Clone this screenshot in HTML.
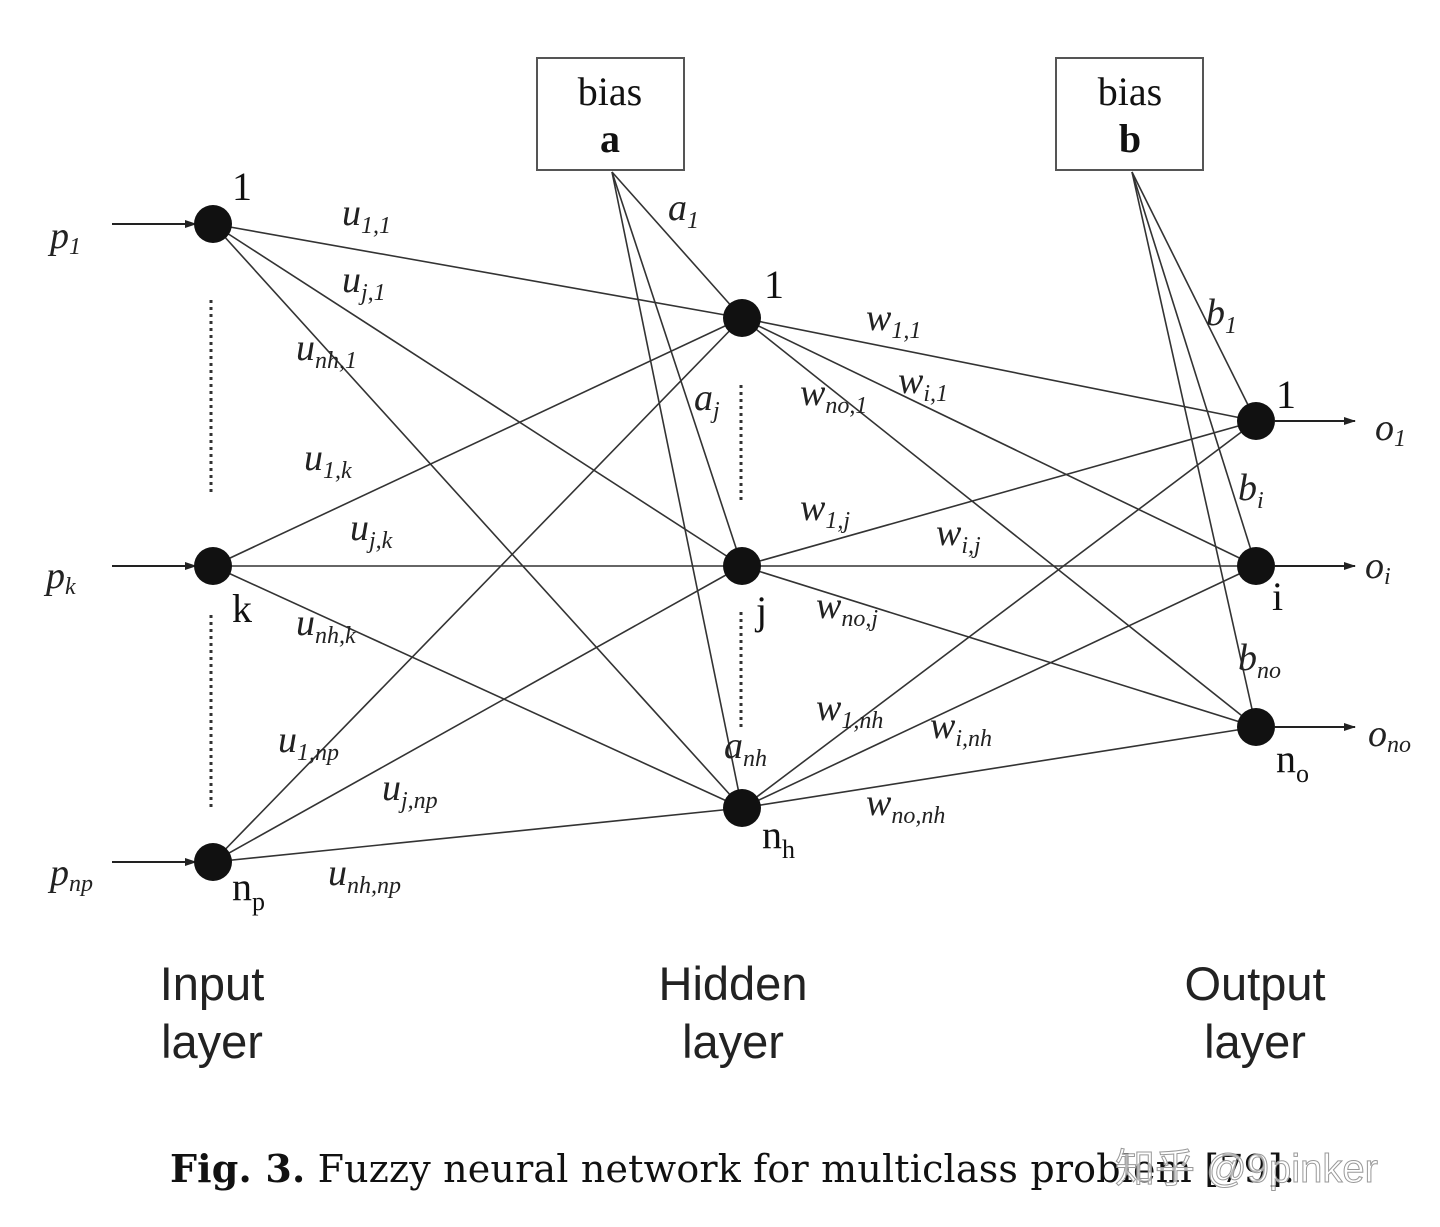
<!DOCTYPE html>
<html><head><meta charset="utf-8"><style>
html,body{margin:0;padding:0;background:#fff;}
svg{display:block}
.l{font-family:"Liberation Serif",serif;font-style:italic;font-size:38px;fill:#222}
.s{font-family:"Liberation Serif",serif;font-style:italic;font-size:24px;fill:#222}
.n{font-family:"Liberation Serif",serif;font-size:40px;fill:#111}
.g{font-family:"Liberation Sans",sans-serif;font-size:47px;fill:#222}
</style></head><body>
<svg width="1440" height="1227" viewBox="0 0 1440 1227" xmlns="http://www.w3.org/2000/svg">
<defs><marker id="ar" markerWidth="12" markerHeight="8" refX="11" refY="4" orient="auto" markerUnits="userSpaceOnUse"><path d="M0,0 L12,4 L0,8 z" fill="#222"/></marker></defs>
<g stroke="#333" stroke-width="1.6" fill="none">
<line x1="213" y1="224" x2="742" y2="318"/><line x1="213" y1="224" x2="742" y2="566"/><line x1="213" y1="224" x2="742" y2="808"/>
<line x1="213" y1="566" x2="742" y2="318"/><line x1="213" y1="566" x2="742" y2="566"/><line x1="213" y1="566" x2="742" y2="808"/>
<line x1="213" y1="862" x2="742" y2="318"/><line x1="213" y1="862" x2="742" y2="566"/><line x1="213" y1="862" x2="742" y2="808"/>
<line x1="742" y1="318" x2="1256" y2="421"/><line x1="742" y1="318" x2="1256" y2="566"/><line x1="742" y1="318" x2="1256" y2="727"/>
<line x1="742" y1="566" x2="1256" y2="421"/><line x1="742" y1="566" x2="1256" y2="566"/><line x1="742" y1="566" x2="1256" y2="727"/>
<line x1="742" y1="808" x2="1256" y2="421"/><line x1="742" y1="808" x2="1256" y2="566"/><line x1="742" y1="808" x2="1256" y2="727"/>
<line x1="612" y1="172" x2="742" y2="318"/><line x1="612" y1="172" x2="742" y2="566"/><line x1="612" y1="172" x2="742" y2="808"/>
<line x1="1132" y1="172" x2="1256" y2="421"/><line x1="1132" y1="172" x2="1256" y2="566"/><line x1="1132" y1="172" x2="1256" y2="727"/>
</g>
<g stroke="#222" stroke-width="2">
<line x1="112" y1="224" x2="196" y2="224" marker-end="url(#ar)"/>
<line x1="112" y1="566" x2="196" y2="566" marker-end="url(#ar)"/>
<line x1="112" y1="862" x2="196" y2="862" marker-end="url(#ar)"/>
<line x1="1275" y1="421" x2="1355" y2="421" marker-end="url(#ar)"/>
<line x1="1275" y1="566" x2="1355" y2="566" marker-end="url(#ar)"/>
<line x1="1275" y1="727" x2="1355" y2="727" marker-end="url(#ar)"/>
</g>
<g stroke="#333" stroke-width="3" stroke-dasharray="3,4">
<line x1="211" y1="300" x2="211" y2="495"/><line x1="211" y1="615" x2="211" y2="810"/>
<line x1="741" y1="385" x2="741" y2="500"/><line x1="741" y1="612" x2="741" y2="728"/>
</g>
<g fill="#111">
<circle cx="213" cy="224" r="19"/><circle cx="213" cy="566" r="19"/><circle cx="213" cy="862" r="19"/>
<circle cx="742" cy="318" r="19"/><circle cx="742" cy="566" r="19"/><circle cx="742" cy="808" r="19"/>
<circle cx="1256" cy="421" r="19"/><circle cx="1256" cy="566" r="19"/><circle cx="1256" cy="727" r="19"/>
</g>
<rect x="537" y="58" width="147" height="112" fill="#fff" stroke="#555" stroke-width="2"/>
<rect x="1056" y="58" width="147" height="112" fill="#fff" stroke="#555" stroke-width="2"/>
<text class="n" x="610" y="105" text-anchor="middle">bias</text>
<text class="n" x="610" y="152" text-anchor="middle" font-weight="bold">a</text>
<text class="n" x="1130" y="105" text-anchor="middle">bias</text>
<text class="n" x="1130" y="152" text-anchor="middle" font-weight="bold">b</text>
<text class="n" x="232" y="200">1</text><text class="n" x="232" y="622">k</text>
<text class="n" x="232" y="900">n<tspan font-size="26" dy="10">p</tspan></text>
<text class="n" x="764" y="298">1</text><text class="n" x="756" y="624">j</text>
<text class="n" x="762" y="848">n<tspan font-size="26" dy="10">h</tspan></text>
<text class="n" x="1276" y="408">1</text><text class="n" x="1272" y="610">i</text>
<text class="n" x="1276" y="772">n<tspan font-size="26" dy="10">o</tspan></text>
<text class="l" x="50" y="248" font-size="44">p<tspan class="s" dy="6">1</tspan></text>
<text class="l" x="46" y="588" font-size="44">p<tspan class="s" dy="6">k</tspan></text>
<text class="l" x="50" y="885" font-size="44">p<tspan class="s" dy="6">np</tspan></text>
<text class="l" x="1375" y="440">o<tspan class="s" dy="6">1</tspan></text>
<text class="l" x="1365" y="578">o<tspan class="s" dy="6">i</tspan></text>
<text class="l" x="1368" y="746">o<tspan class="s" dy="6">no</tspan></text>
<text class="l" x="342" y="225">u<tspan class="s" dy="8">1,1</tspan></text>
<text class="l" x="342" y="292">u<tspan class="s" dy="8">j,1</tspan></text>
<text class="l" x="296" y="360">u<tspan class="s" dy="8">nh,1</tspan></text>
<text class="l" x="304" y="470">u<tspan class="s" dy="8">1,k</tspan></text>
<text class="l" x="350" y="540">u<tspan class="s" dy="8">j,k</tspan></text>
<text class="l" x="296" y="635">u<tspan class="s" dy="8">nh,k</tspan></text>
<text class="l" x="278" y="752">u<tspan class="s" dy="8">1,np</tspan></text>
<text class="l" x="382" y="800">u<tspan class="s" dy="8">j,np</tspan></text>
<text class="l" x="328" y="885">u<tspan class="s" dy="8">nh,np</tspan></text>
<text class="l" x="668" y="220">a<tspan class="s" dy="8">1</tspan></text>
<text class="l" x="694" y="410">a<tspan class="s" dy="8">j</tspan></text>
<text class="l" x="724" y="758">a<tspan class="s" dy="8">nh</tspan></text>
<text class="l" x="1206" y="325">b<tspan class="s" dy="8">1</tspan></text>
<text class="l" x="1238" y="500">b<tspan class="s" dy="8">i</tspan></text>
<text class="l" x="1238" y="670">b<tspan class="s" dy="8">no</tspan></text>
<text class="l" x="866" y="330">w<tspan class="s" dy="8">1,1</tspan></text>
<text class="l" x="898" y="393">w<tspan class="s" dy="8">i,1</tspan></text>
<text class="l" x="800" y="405">w<tspan class="s" dy="8">no,1</tspan></text>
<text class="l" x="800" y="520">w<tspan class="s" dy="8">1,j</tspan></text>
<text class="l" x="936" y="545">w<tspan class="s" dy="8">i,j</tspan></text>
<text class="l" x="816" y="618">w<tspan class="s" dy="8">no,j</tspan></text>
<text class="l" x="816" y="720">w<tspan class="s" dy="8">1,nh</tspan></text>
<text class="l" x="930" y="738">w<tspan class="s" dy="8">i,nh</tspan></text>
<text class="l" x="866" y="815">w<tspan class="s" dy="8">no,nh</tspan></text>
<text class="g" x="212" y="1000" text-anchor="middle">Input</text>
<text class="g" x="212" y="1058" text-anchor="middle">layer</text>
<text class="g" x="733" y="1000" text-anchor="middle">Hidden</text>
<text class="g" x="733" y="1058" text-anchor="middle">layer</text>
<text class="g" x="1255" y="1000" text-anchor="middle">Output</text>
<text class="g" x="1255" y="1058" text-anchor="middle">layer</text>
<text x="170" y="1182" font-family="'DejaVu Serif','Liberation Serif',serif" font-size="38" fill="#111" textLength="1125" lengthAdjust="spacing"><tspan font-weight="bold">Fig. 3.</tspan>  Fuzzy neural network for multiclass problem [79].</text>
<text x="1115" y="1182" font-family="'Liberation Sans','Noto Sans CJK SC',sans-serif" font-size="40" fill="#fff" fill-opacity="0.7" stroke="#999" stroke-width="1">知乎 @9pinker</text>
</svg>
</body></html>
